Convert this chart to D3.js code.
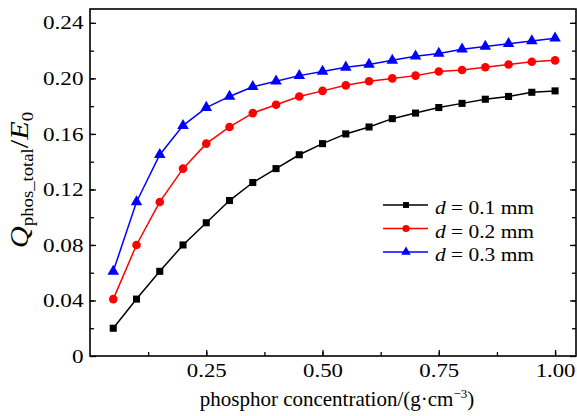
<!DOCTYPE html>
<html>
<head>
<meta charset="utf-8">
<script src="https://cdn.jsdelivr.net/npm/d3@7"></script>
<style>
  body { margin: 0; background: #fff; }
</style>
</head>
<body>
<div id="chart"></div>
<script>
// data
var conc = [0.05, 0.10, 0.15, 0.20, 0.25, 0.30, 0.35, 0.40, 0.45, 0.50,
            0.55, 0.60, 0.65, 0.70, 0.75, 0.80, 0.85, 0.90, 0.95, 1.00];
var d01 = [0.020, 0.041, 0.061, 0.080, 0.096, 0.112, 0.125, 0.135, 0.145, 0.153,
           0.160, 0.165, 0.171, 0.175, 0.179, 0.182, 0.185, 0.187, 0.190, 0.191];
var d02 = [0.041, 0.080, 0.111, 0.135, 0.153, 0.165, 0.175, 0.181, 0.187, 0.191,
           0.195, 0.198, 0.200, 0.202, 0.205, 0.206, 0.208, 0.210, 0.212, 0.213];
var d03 = [0.061, 0.111, 0.145, 0.166, 0.179, 0.187, 0.194, 0.198, 0.202, 0.205,
           0.208, 0.210, 0.213, 0.216, 0.218, 0.221, 0.223, 0.225, 0.227, 0.229];
var xTicks = [0.25, 0.50, 0.75, 1.00];
var yTicks = [0, 0.04, 0.08, 0.12, 0.16, 0.20, 0.24];
var seriesNames = ["0.1 mm", "0.2 mm", "0.3 mm"];

var FONT = "'Liberation Serif', 'DejaVu Serif', serif";

var series = [
  { name: seriesNames[0], values: d01, color: "#000000", shape: d3.symbolSquare, size: 50 },
  { name: seriesNames[1], values: d02, color: "#ff0000", shape: d3.symbolCircle, size: 58 },
  { name: seriesNames[2], values: d03, color: "#0000ff", shape: d3.symbolTriangle, size: 58 }
];

// set the dimensions and margins of the graph
var margin = { top: 9, right: 1, bottom: 60, left: 90 },
    width = 577 - margin.left - margin.right,
    height = 416 - margin.top - margin.bottom;

var svg = d3.select("#chart")
    .append("svg")
    .attr("width", 577)
    .attr("height", 416)
    .append("g")
    .attr("transform", "translate(" + margin.left + "," + margin.top + ")");

var x = d3.scaleLinear().domain([0, 1.045]).range([0, width]);
var y = d3.scaleLinear().domain([0, 0.25]).range([height, 0]);

// minor ticks
var xMinor = d3.range(0.125, 1.04, 0.125);
var yMinor = d3.range(0.02, 0.25, 0.02);

function styleAxis(g) {
  g.attr("font-family", FONT);
  g.select(".domain").remove();
  g.selectAll("line").attr("stroke", "#000").attr("stroke-width", 1.3);
  g.selectAll("text")
      .style("font-family", FONT)
      .style("font-size", "19px")
      .attr("fill", "#000");
}

// bottom axis
svg.append("g")
    .attr("transform", "translate(0," + height + ")")
    .call(d3.axisBottom(x).tickValues(xMinor).tickSize(-4).tickFormat(""))
    .call(styleAxis);
svg.append("g")
    .attr("transform", "translate(0," + height + ")")
    .call(d3.axisBottom(x).tickValues(xTicks).tickSize(-6).tickPadding(8).tickFormat(d3.format(".2f")))
    .call(styleAxis)
    .selectAll("text")
    .attr("transform", "scale(1.2,1)");

// left axis
svg.append("g")
    .call(d3.axisLeft(y).tickValues(yMinor).tickSize(-4).tickFormat(""))
    .call(styleAxis);
svg.append("g")
    .call(d3.axisLeft(y).tickValues(yTicks).tickSize(-6)
      .tickFormat(function (d) { return d === 0 ? "0" : d3.format(".2f")(d); }))
    .call(styleAxis)
    .selectAll("text")
    .attr("x", 0)
    .attr("transform", "translate(-6.5,0) scale(1.22,1)");

// right axis ticks
svg.append("g")
    .attr("transform", "translate(" + width + ",0)")
    .call(d3.axisRight(y).tickValues(yMinor).tickSize(-4).tickFormat(""))
    .call(styleAxis);
svg.append("g")
    .attr("transform", "translate(" + width + ",0)")
    .call(d3.axisRight(y).tickValues(yTicks).tickSize(-6).tickFormat(""))
    .call(styleAxis);

// frame
svg.append("rect")
    .attr("x", 0).attr("y", 0)
    .attr("width", width).attr("height", height)
    .attr("fill", "none")
    .attr("stroke", "#000")
    .attr("stroke-width", 1.6);

// lines and markers
var line = d3.line()
    .x(function (d, i) { return x(conc[i]); })
    .y(function (d) { return y(d); });

series.forEach(function (s) {
  svg.append("path")
      .datum(s.values)
      .attr("fill", "none")
      .attr("stroke", s.color)
      .attr("stroke-width", 1.5)
      .attr("d", line);

  svg.selectAll(null)
      .data(s.values)
      .enter()
      .append("path")
      .attr("d", d3.symbol().type(s.shape).size(s.size))
      .attr("transform", function (d, i) { return "translate(" + x(conc[i]) + "," + y(d) + ")"; })
      .attr("fill", s.color);
});

// legend
var legend = svg.append("g")
    .attr("transform", "translate(" + (383 - margin.left) + "," + (205 - margin.top) + ")");

series.forEach(function (s, i) {
  var row = legend.append("g").attr("transform", "translate(0," + (i * 23.5) + ")");
  row.append("line")
      .attr("x1", 0).attr("x2", 45)
      .attr("stroke", s.color).attr("stroke-width", 1.5);
  row.append("path")
      .attr("d", d3.symbol().type(s.shape).size(s.size * 0.7))
      .attr("transform", "translate(23,0)")
      .attr("fill", s.color);
  var t = row.append("text")
      .attr("transform", "translate(52,9) scale(1.1,1)")
      .style("font-family", FONT)
      .style("font-size", "19.5px");
  t.append("tspan").style("font-style", "italic").text("d");
  t.append("tspan").text(" = " + s.name);
});

// X axis label
var xl = svg.append("text")
    .attr("text-anchor", "middle")
    .attr("x", 337 - margin.left)
    .attr("y", 406 - margin.top)
    .style("font-family", FONT)
    .style("font-size", "21px");
xl.append("tspan").text("phosphor concentration/(g\u00b7cm");
xl.append("tspan").attr("dy", -8).style("font-size", "13px").text("\u22123");
xl.append("tspan").attr("dy", 8).text(")");

// Y axis label
var yl = svg.append("text")
    .attr("text-anchor", "middle")
    .attr("transform", "translate(" + (28 - margin.left) + "," + (180 - margin.top) + ") rotate(-90) scale(1.17,1)")
    .style("font-family", FONT)
    .style("font-size", "26px");
yl.append("tspan").style("font-style", "italic").text("Q");
yl.append("tspan").attr("dy", 5).style("font-size", "16px").text("phos_total");
yl.append("tspan").attr("dy", -5).text("/");
yl.append("tspan").style("font-style", "italic").text("E");
yl.append("tspan").attr("dy", 5).style("font-size", "16px").text("0");
</script>
</body>
</html>
